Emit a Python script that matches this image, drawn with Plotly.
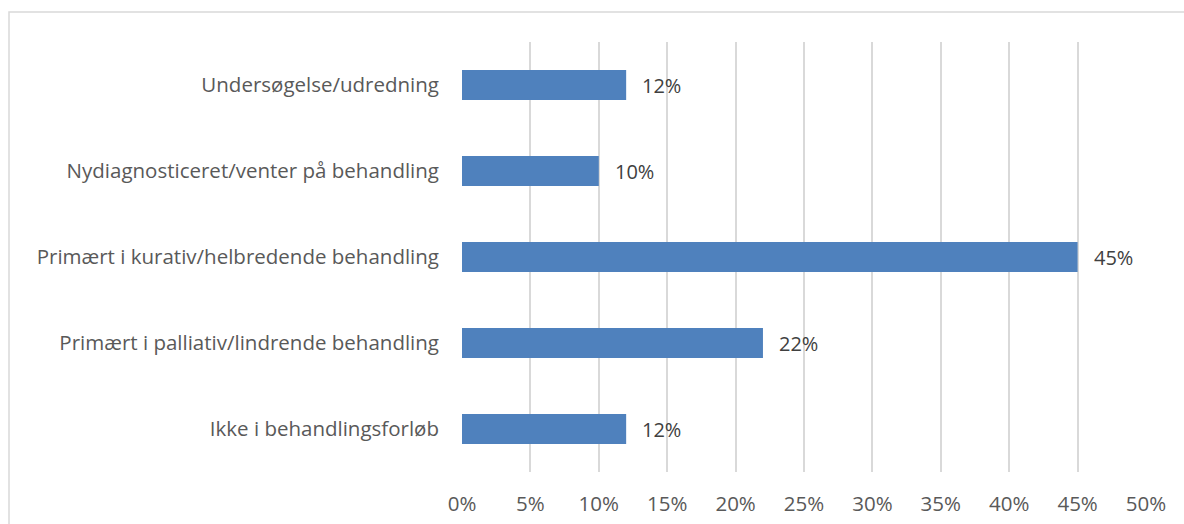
import plotly.graph_objects as go

categories = [
    "Undersøgelse/udredning",
    "Nydiagnosticeret/venter på behandling",
    "Primært i kurativ/helbredende behandling",
    "Primært i palliativ/lindrende behandling",
    "Ikke i behandlingsforløb",
]
values = [12, 10, 45, 22, 12]
labels = ["12%", "10%", "45%", "22%", "12%"]
tick_vals = [0, 5, 10, 15, 20, 25, 30, 35, 40, 45, 50]
tick_text = ["0%", "5%", "10%", "15%", "20%", "25%", "30%", "35%", "40%", "45%", "50%"]

W, H = 1184, 524
L, R, T, B = 462, 38, 42, 52
font_family = "'Open Sans', sans-serif"
text_color = "#595959"
font_size = 20.5

fig = go.Figure(
    go.Bar(
        x=values,
        y=categories,
        orientation="h",
        marker=dict(color="#4f81bd", line=dict(width=0)),
        hoverinfo="skip",
    )
)

for cat, v, lab in zip(categories, values, labels):
    fig.add_annotation(
        x=v, y=cat, text=lab, showarrow=False,
        xanchor="left", xshift=14,
        font=dict(size=20, color="#404040", family=font_family),
    )

pw = W - L - R
ph = H - T - B
fig.add_shape(
    type="rect", xref="paper", yref="paper",
    x0=(9 - L) / pw, x1=(W + 5 - L) / pw,
    y0=-(H + 5 - T - ph) / ph, y1=1 + (T - 12) / ph,
    line=dict(color="#d9d9d9", width=1.5),
    layer="below",
)

fig.update_layout(
    width=W, height=H,
    margin=dict(l=L, r=R, t=T, b=B, autoexpand=False),
    paper_bgcolor="white",
    plot_bgcolor="white",
    bargap=0.65,
    showlegend=False,
    font=dict(family=font_family, size=font_size, color=text_color),
)
fig.update_xaxes(
    range=[0, 50], tickvals=tick_vals, ticktext=tick_text,
    showgrid=True, gridcolor="#d9d9d9", gridwidth=1.5,
    zeroline=False, showline=False, ticks="",
    ticklabelstandoff=17, automargin=False,
    tickfont=dict(size=font_size, color=text_color),
)
fig.update_yaxes(
    categoryorder="array", categoryarray=categories[::-1],
    showgrid=False, zeroline=False, showline=False, ticks="",
    ticklabelstandoff=22, automargin=False,
    tickfont=dict(size=font_size, color=text_color),
)

fig.write_html("out.html")
